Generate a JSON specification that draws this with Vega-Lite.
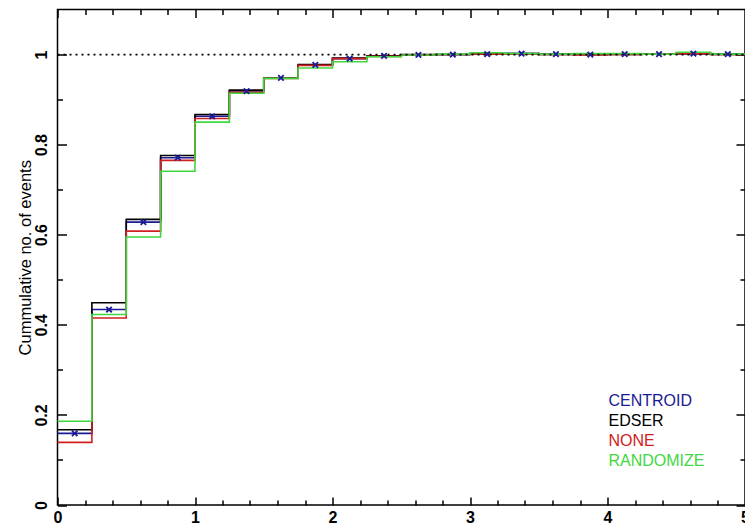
{
  "$schema": "https://vega.github.io/schema/vega-lite/v6.json",
  "width": 687.5,
  "height": 495.5,
  "autosize": {"type": "none"},
  "padding": {"left": 57.5, "top": 9.5, "right": 0, "bottom": 20},
  "background": "white",
  "config": {
    "view": {"stroke": "black", "strokeWidth": 1.5},
    "font": "Liberation Sans",
    "axis": {"domain": false, "grid": false, "tickColor": "black", "tickWidth": 1.5, "labelColor": "black", "titleColor": "black"}
  },
  "datasets": {
    "steps": [
      {"s": "CENTROID", "x": 0, "y": 0.159}, {"s": "CENTROID", "x": 0.25, "y": 0.434}, {"s": "CENTROID", "x": 0.5, "y": 0.628}, {"s": "CENTROID", "x": 0.75, "y": 0.771},
      {"s": "CENTROID", "x": 1, "y": 0.863}, {"s": "CENTROID", "x": 1.25, "y": 0.919}, {"s": "CENTROID", "x": 1.5, "y": 0.948}, {"s": "CENTROID", "x": 1.75, "y": 0.977},
      {"s": "CENTROID", "x": 2, "y": 0.991}, {"s": "CENTROID", "x": 2.25, "y": 0.997}, {"s": "CENTROID", "x": 2.5, "y": 0.999}, {"s": "CENTROID", "x": 2.75, "y": 1.0},
      {"s": "CENTROID", "x": 3, "y": 1.001}, {"s": "CENTROID", "x": 3.25, "y": 1.002}, {"s": "CENTROID", "x": 3.5, "y": 1.001}, {"s": "CENTROID", "x": 3.75, "y": 1.0},
      {"s": "CENTROID", "x": 4, "y": 1.001}, {"s": "CENTROID", "x": 4.25, "y": 1.001}, {"s": "CENTROID", "x": 4.5, "y": 1.002}, {"s": "CENTROID", "x": 4.75, "y": 1.001},
      {"s": "CENTROID", "x": 5, "y": 1.001},
      {"s": "EDSER", "x": 0, "y": 0.167}, {"s": "EDSER", "x": 0.25, "y": 0.449}, {"s": "EDSER", "x": 0.5, "y": 0.634}, {"s": "EDSER", "x": 0.75, "y": 0.776},
      {"s": "EDSER", "x": 1, "y": 0.867}, {"s": "EDSER", "x": 1.25, "y": 0.921}, {"s": "EDSER", "x": 1.5, "y": 0.948}, {"s": "EDSER", "x": 1.75, "y": 0.978},
      {"s": "EDSER", "x": 2, "y": 0.992}, {"s": "EDSER", "x": 2.25, "y": 0.997}, {"s": "EDSER", "x": 2.5, "y": 1.0}, {"s": "EDSER", "x": 2.75, "y": 1.0},
      {"s": "EDSER", "x": 3, "y": 1.001}, {"s": "EDSER", "x": 3.25, "y": 1.002}, {"s": "EDSER", "x": 3.5, "y": 1.0}, {"s": "EDSER", "x": 3.75, "y": 1.0},
      {"s": "EDSER", "x": 4, "y": 1.0}, {"s": "EDSER", "x": 4.25, "y": 1.001}, {"s": "EDSER", "x": 4.5, "y": 1.002}, {"s": "EDSER", "x": 4.75, "y": 1.0},
      {"s": "EDSER", "x": 5, "y": 1.0},
      {"s": "NONE", "x": 0, "y": 0.139}, {"s": "NONE", "x": 0.25, "y": 0.415}, {"s": "NONE", "x": 0.5, "y": 0.608}, {"s": "NONE", "x": 0.75, "y": 0.765},
      {"s": "NONE", "x": 1, "y": 0.858}, {"s": "NONE", "x": 1.25, "y": 0.916}, {"s": "NONE", "x": 1.5, "y": 0.947}, {"s": "NONE", "x": 1.75, "y": 0.976},
      {"s": "NONE", "x": 2, "y": 0.991}, {"s": "NONE", "x": 2.25, "y": 0.996}, {"s": "NONE", "x": 2.5, "y": 0.999}, {"s": "NONE", "x": 2.75, "y": 1.0},
      {"s": "NONE", "x": 3, "y": 1.001}, {"s": "NONE", "x": 3.25, "y": 1.001}, {"s": "NONE", "x": 3.5, "y": 1.0}, {"s": "NONE", "x": 3.75, "y": 0.999},
      {"s": "NONE", "x": 4, "y": 1.0}, {"s": "NONE", "x": 4.25, "y": 1.001}, {"s": "NONE", "x": 4.5, "y": 1.002}, {"s": "NONE", "x": 4.75, "y": 1.0},
      {"s": "NONE", "x": 5, "y": 1.0},
      {"s": "RANDOMIZE", "x": 0, "y": 0.186}, {"s": "RANDOMIZE", "x": 0.25, "y": 0.423}, {"s": "RANDOMIZE", "x": 0.5, "y": 0.595}, {"s": "RANDOMIZE", "x": 0.75, "y": 0.741},
      {"s": "RANDOMIZE", "x": 1, "y": 0.85}, {"s": "RANDOMIZE", "x": 1.25, "y": 0.914}, {"s": "RANDOMIZE", "x": 1.5, "y": 0.947}, {"s": "RANDOMIZE", "x": 1.75, "y": 0.97},
      {"s": "RANDOMIZE", "x": 2, "y": 0.984}, {"s": "RANDOMIZE", "x": 2.25, "y": 0.995}, {"s": "RANDOMIZE", "x": 2.5, "y": 0.999}, {"s": "RANDOMIZE", "x": 2.75, "y": 1.001},
      {"s": "RANDOMIZE", "x": 3, "y": 1.004}, {"s": "RANDOMIZE", "x": 3.25, "y": 1.002}, {"s": "RANDOMIZE", "x": 3.5, "y": 1.001}, {"s": "RANDOMIZE", "x": 3.75, "y": 1.002},
      {"s": "RANDOMIZE", "x": 4, "y": 1.002}, {"s": "RANDOMIZE", "x": 4.25, "y": 1.001}, {"s": "RANDOMIZE", "x": 4.5, "y": 1.005}, {"s": "RANDOMIZE", "x": 4.75, "y": 1.001},
      {"s": "RANDOMIZE", "x": 5, "y": 1.001}
    ],
    "markers": [
      {"x": 0.125, "y": 0.159}, {"x": 0.375, "y": 0.434}, {"x": 0.625, "y": 0.628}, {"x": 0.875, "y": 0.771},
      {"x": 1.125, "y": 0.863}, {"x": 1.375, "y": 0.919}, {"x": 1.625, "y": 0.948}, {"x": 1.875, "y": 0.977},
      {"x": 2.125, "y": 0.991}, {"x": 2.375, "y": 0.997}, {"x": 2.625, "y": 0.999}, {"x": 2.875, "y": 1.0},
      {"x": 3.125, "y": 1.001}, {"x": 3.375, "y": 1.002}, {"x": 3.625, "y": 1.001}, {"x": 3.875, "y": 1.0},
      {"x": 4.125, "y": 1.001}, {"x": 4.375, "y": 1.001}, {"x": 4.625, "y": 1.002}, {"x": 4.875, "y": 1.001}
    ],
    "ref": [{"y": 1}]
  },
  "layer": [
    {
      "data": {"name": "steps"},
      "transform": [{"filter": "datum.s === 'CENTROID' || datum.s === 'EDSER'"}],
      "mark": {"type": "line", "interpolate": "step-after", "strokeWidth": 1.6},
      "encoding": {
        "x": {"field": "x", "type": "quantitative", "scale": {"domain": [0, 5], "nice": false, "zero": false},
          "axis": {"orient": "bottom", "values": [0, 1, 2, 3, 4, 5], "format": "~g", "tickSize": -8, "labelPadding": 12, "labelFontSize": 16, "labelFontWeight": "bold", "labelFlush": false, "title": null}},
        "y": {"field": "y", "type": "quantitative", "scale": {"domain": [0, 1.1], "nice": false},
          "axis": {"orient": "left", "values": [0, 0.2, 0.4, 0.6, 0.8, 1], "format": "~g", "tickSize": -9, "labelAngle": -90, "labelAlign": "center", "labelBaseline": "bottom", "labelPadding": 17, "labelFontSize": 16, "labelFontWeight": "bold", "labelFlush": false,
            "title": "Cummulative no. of events", "titleFontSize": 16.5, "titleFontWeight": "normal", "titlePadding": 0}},
        "color": {"field": "s", "type": "nominal",
          "scale": {"domain": ["CENTROID", "EDSER", "NONE", "RANDOMIZE"], "range": ["#1a1a96", "#000000", "#d02020", "#3fd83f"]},
          "legend": {"orient": "none", "legendX": 535, "legendY": 383, "title": null, "padding": 0, "symbolSize": 0, "symbolOpacity": 0, "symbolStrokeWidth": 0, "labelOffset": 0, "labelFontSize": 16, "labelFont": "Liberation Sans", "rowPadding": 4,
            "encode": {"labels": {"update": {"fill": {"scale": "color", "field": "value"}}}}}}
      }
    },
    {
      "data": {"name": "steps"},
      "transform": [{"filter": "datum.s === 'NONE' || datum.s === 'RANDOMIZE'"}],
      "mark": {"type": "line", "interpolate": "step-after", "strokeWidth": 1.6},
      "encoding": {
        "x": {"field": "x", "type": "quantitative",
          "axis": {"orient": "bottom", "values": [0.2, 0.4, 0.6, 0.8, 1.2, 1.4, 1.6, 1.8, 2.2, 2.4, 2.6, 2.8, 3.2, 3.4, 3.6, 3.8, 4.2, 4.4, 4.6, 4.8], "tickSize": -5, "labels": false, "title": null}},
        "y": {"field": "y", "type": "quantitative",
          "axis": {"orient": "left", "values": [0.1, 0.3, 0.5, 0.7, 0.9], "tickSize": -5, "labels": false, "title": null}},
        "color": {"field": "s", "type": "nominal",
          "legend": {"orient": "none", "legendX": 535, "legendY": 383, "title": null, "padding": 0, "symbolSize": 0, "symbolOpacity": 0, "symbolStrokeWidth": 0, "labelOffset": 0, "labelFontSize": 16, "labelFont": "Liberation Sans", "rowPadding": 4,
            "encode": {"labels": {"update": {"fill": {"scale": "color", "field": "value"}}}}}}
      }
    },
    {
      "data": {"name": "ref"},
      "mark": {"type": "rule", "color": "black", "strokeWidth": 1.8, "strokeDash": [2, 4]},
      "encoding": {
        "x": {"datum": 0, "type": "quantitative",
          "axis": {"orient": "top", "values": [0, 1, 2, 3, 4, 5], "tickSize": -8, "labels": false, "title": null}},
        "x2": {"datum": 5},
        "y": {"field": "y", "type": "quantitative",
          "axis": {"orient": "right", "values": [0, 0.2, 0.4, 0.6, 0.8, 1], "tickSize": -9, "labels": false, "title": null}}
      }
    },
    {
      "data": {"name": "markers"},
      "mark": {"type": "point", "shape": "M-1,-1L1,1M-1,1L1,-1", "filled": false, "color": "#1a1a96", "strokeWidth": 1.8, "size": 30, "opacity": 1},
      "encoding": {
        "x": {"field": "x", "type": "quantitative",
          "axis": {"orient": "top", "values": [0.2, 0.4, 0.6, 0.8, 1.2, 1.4, 1.6, 1.8, 2.2, 2.4, 2.6, 2.8, 3.2, 3.4, 3.6, 3.8, 4.2, 4.4, 4.6, 4.8], "tickSize": -5, "labels": false, "title": null}},
        "y": {"field": "y", "type": "quantitative",
          "axis": {"orient": "right", "values": [0.1, 0.3, 0.5, 0.7, 0.9], "tickSize": -5, "labels": false, "title": null}}
      }
    }
  ]
}
